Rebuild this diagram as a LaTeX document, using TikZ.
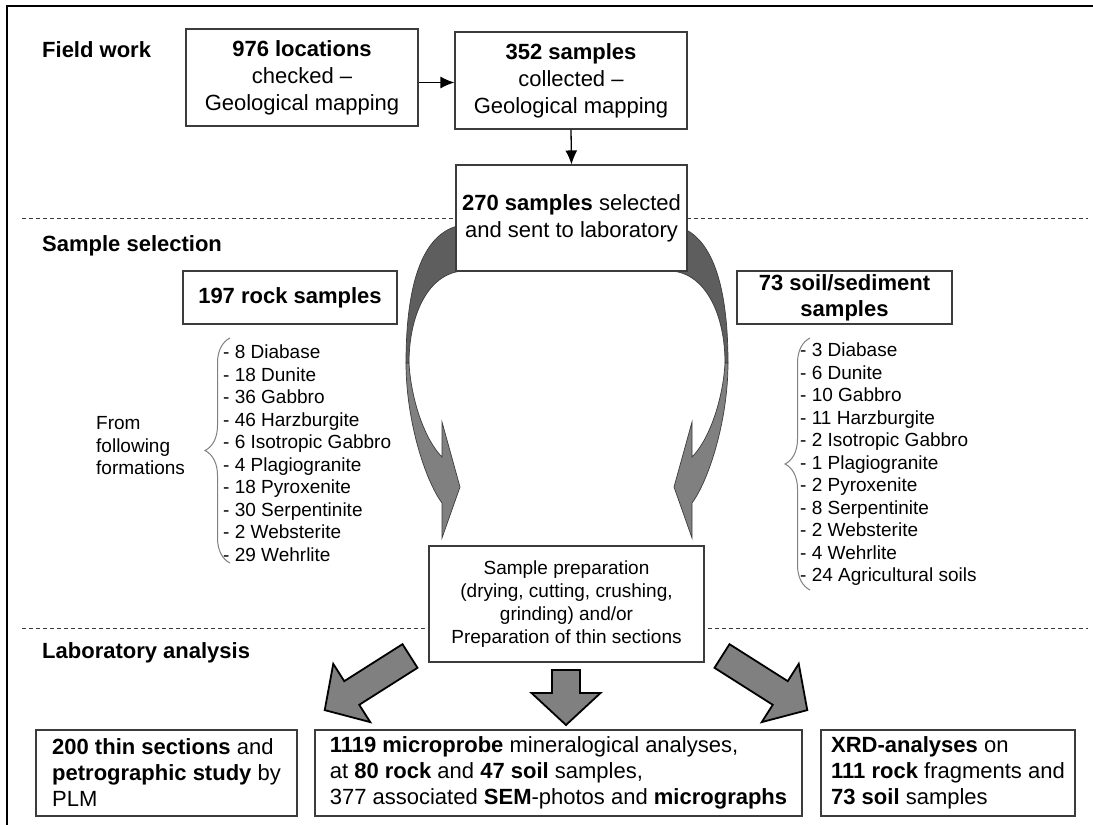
\documentclass[tikz,border=0pt]{standalone}
\usepackage{fontspec}
\setmainfont{Liberation Sans}
\usetikzlibrary{arrows.meta,decorations.pathreplacing}

\definecolor{framegray}{HTML}{3C3C3C}
\definecolor{banddark}{HTML}{5E5E5E}
\definecolor{bandlight}{HTML}{808080}

\tikzstyle{stage} = [font=\fontsize{22}{27}\selectfont\bfseries,anchor=base west,inner sep=0pt]
\tikzstyle{box} = [draw=framegray,line width=1.1pt,fill=white,align=center,inner sep=0pt,font=\fontsize{22}{27}\selectfont]
\tikzstyle{result} = [box,align=left,minimum height=86pt,font=\fontsize{22}{26}\selectfont]
\tikzstyle{listing} = [font=\fontsize{19}{22.5}\selectfont,align=left,anchor=west,inner sep=0pt]
\tikzstyle{formbrace} = [decorate,decoration={brace,amplitude=25pt},draw=gray,line width=1pt]
\tikzstyle{sectionline} = [dash pattern=on 4pt off 3pt,draw=framegray,line width=0.8pt]
\tikzstyle{bandline} = [draw=framegray,line width=0.7pt]
\tikzstyle{blockline} = [draw=black,line width=1.8pt,fill=bandlight,line join=miter]

% bent ribbon arrow from the selected samples down to the preparation
\newcommand{\bentarrow}{%
  \draw[bandline,fill=banddark] (462,225) .. controls (420,232) and (406,290) .. (406,363)
    -- (409,363) .. controls (409,315) and (428,274) .. (462,271) -- cycle;
  \draw[bandline,fill=bandlight] (409,363) .. controls (411,400) and (425,440) .. (442,457)
    -- (442,422) -- (460,487) -- (442,538) -- (442,503)
    .. controls (425,480) and (406,420) .. (406,363) -- cycle;}

% block arrow of length #1 along x, tail at the origin
\newcommand{\blockarrow}[1]{%
  \draw[blockline] (0,-14) -- (#1-32,-14) -- (#1-32,-34.5) -- (#1,0)
    -- (#1-32,34.5) -- (#1-32,14) -- (0,14) -- cycle;}

\begin{document}
\begin{tikzpicture}[x=1pt,y=-1pt,>={Latex[length=14pt,width=12pt]}]
\useasboundingbox (0,0) rectangle (1093,825);
\clip (0,0) rectangle (1093,825);
\fill[white] (0,0) rectangle (1093,825);

% outer frame
\draw[line width=1.5pt] (7,840) -- (7,6) -- (1110,6);

% section borders
\draw[sectionline] (22,218) -- (1088,218);
\draw[sectionline] (22,628) -- (1088,628);

% stage labels
\node[stage] (fieldwork) at (42,57) {Field work};
\node[stage] (selection) at (42,251) {Sample selection};
\node[stage] (labwork) at (42,658) {Laboratory analysis};

% bent arrows
\bentarrow
\begin{scope}[shift={(1134,0)},xscale=-1]
  \bentarrow
\end{scope}

% field work
\node[box,minimum width=232pt,minimum height=97pt] (located) at (302,77.5)
  {\textbf{976 locations}\\checked --\\Geological mapping};
\node[box,minimum width=232pt,minimum height=97pt] (collected) at (571,80.5)
  {\textbf{352 samples}\\collected --\\Geological mapping};
\node[box,minimum width=231pt,minimum height=106pt] (selected) at (571.5,218)
  {\textbf{270 samples} selected\\and sent to laboratory};

\path[->,line width=1.3pt]
  ([yshift=-5pt]located.east) edge ([yshift=-5pt]located.east -| collected.west)
  (collected.south) edge (selected.north);

% sample selection
\node[box,minimum width=214pt,minimum height=53pt,font=\fontsize{22}{26}\selectfont\bfseries] (rocks) at (290,297.5)
  {197 rock samples};
\node[box,minimum width=215pt,minimum height=53pt,font=\fontsize{22}{26}\selectfont\bfseries] (soils) at (844.5,297.5)
  {73 soil/sediment\\samples};

\node[listing] (fromtext) at (96,446) {From\\following\\formations};
\draw[formbrace] (230,563) -- (230,338);
\node[listing] (rocklist) at (223,453)
  {- 8 Diabase\\- 18 Dunite\\- 36 Gabbro\\- 46 Harzburgite\\- 6 Isotropic Gabbro\\
   - 4 Plagiogranite\\- 18 Pyroxenite\\- 30 Serpentinite\\- 2 Websterite\\- 29 Wehrlite};
\draw[formbrace] (810,590) -- (810,338);
\node[listing] (soillist) at (800,464.5)
  {- 3 Diabase\\- 6 Dunite\\- 10 Gabbro\\- 11 Harzburgite\\- 2 Isotropic Gabbro\\
   - 1 Plagiogranite\\- 2 Pyroxenite\\- 8 Serpentinite\\- 2 Websterite\\- 4 Wehrlite\\
   - 24 Agricultural soils};

\node[box,minimum width=275pt,minimum height=116pt,font=\fontsize{19}{23}\selectfont] (prep) at (566.5,604)
  {Sample preparation\\(drying, cutting, crushing,\\grinding) and/or\\Preparation of thin sections};

% laboratory analysis
\begin{scope}[shift={(410,656)},rotate=212.4]
  \blockarrow{101}
\end{scope}
\begin{scope}[shift={(566,670)},rotate=-90]
  \blockarrow{55}
\end{scope}
\begin{scope}[shift={(722,656)},rotate=-32.4]
  \blockarrow{101}
\end{scope}

\node[result,minimum width=261pt] (thin) at (166.5,773)
  {\textbf{200 thin sections} and\\\textbf{petrographic study} by\\PLM};
\node[result,minimum width=487pt] (probe) at (558.5,773)
  {\textbf{1119 microprobe} mineralogical analyses,\\at \textbf{80 rock} and \textbf{47 soil} samples,\\
   377 associated \textbf{SEM}-photos and \textbf{micrographs}};
\node[result,minimum width=254pt] (xrd) at (948,773)
  {\textbf{XRD-analyses} on\\\textbf{111 rock} fragments and\\\textbf{73 soil} samples};

\end{tikzpicture}
\end{document}
